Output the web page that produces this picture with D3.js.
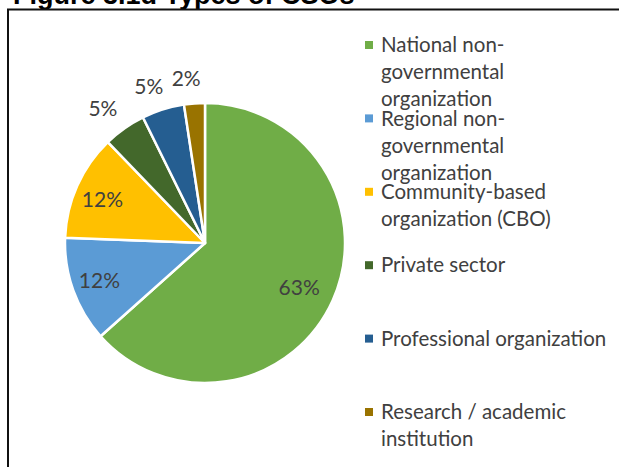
<!DOCTYPE html>
<html>
  <head>
    <meta charset='UTF-8'/>
    <script src="https://cdn.jsdelivr.net/npm/d3@7"></script>
    <style>
      body { margin : 0; background : white; }
      .title { font : bold 27px "Liberation Sans", Arial, sans-serif; fill : #000; }
      .legend text { font-family : Lato, "Open Sans", sans-serif; font-size : 20.5px; fill : #404040; }
      .label { font-family : Lato, "Open Sans", sans-serif; font-size : 21px; fill : #404040; }
    </style>
  </head>
  <body>
    <svg id='fig' width='619' height='467'></svg>
    <script>
      // data (shares in %)
      const categories = ["National non-governmental organization",
                          "Regional non-governmental organization",
                          "Community-based organization (CBO)",
                          "Private sector",
                          "Professional organization",
                          "Research / academic institution"]
      const legendLines = [["National non-", "governmental", "organization"],
                           ["Regional non-", "governmental", "organization"],
                           ["Community-based", "organization (CBO)"],
                           ["Private sector"],
                           ["Professional organization"],
                           ["Research / academic", "institution"]]
      const shares = [63.4, 12.2, 12.2, 4.9, 4.9, 2.4]
      const colors = ["#70AD47", "#5B9BD5", "#FFC000", "#43682B", "#255E91", "#997300"]
      const title = "Figure 3.1d Types of CSOs"

      const svg = d3.select("#fig")
      const cx = 205, cy = 243, r = 140

      // title is cut by the top edge, as in the source
      svg.append("text")
        .attr("class", "title")
        .attr("x", 13)
        .attr("y", 4)
        .text(title)

      // frame
      svg.append("rect")
        .attr("x", 8)
        .attr("y", 9.5)
        .attr("width", 700)
        .attr("height", 600)
        .attr("fill", "none")
        .attr("stroke", "#111")
        .attr("stroke-width", 2)

      const total = d3.sum(shares)
      const pct = d3.format(".0%")
      const pie = d3.pie().sort(null).value(d => d)
      const arcs = pie(shares)
      const arc = d3.arc().innerRadius(0).outerRadius(r)
      const inner = d3.arc().innerRadius(r*0.77).outerRadius(r*0.77)
      const outer = d3.arc().innerRadius(r*1.19).outerRadius(r*1.19)

      const g = svg.append("g").attr("transform", `translate(${cx},${cy})`)

      g.selectAll("path")
        .data(arcs)
        .join("path")
        .attr("d", arc)
        .attr("fill", (d, i) => colors[i])
        .attr("stroke", "white")
        .attr("stroke-width", 2.5)
        .attr("stroke-linejoin", "round")

      // big slices get the label inside, small ones outside (a bit to the left, like Excel)
      g.selectAll("text")
        .data(arcs)
        .join("text")
        .attr("class", "label")
        .attr("transform", d => `translate(${(d.value >= 10 ? inner : outer).centroid(d)})`)
        .attr("text-anchor", "middle")
        .attr("dx", d => d.value >= 10 ? "-0.2em" : "-0.3em")
        .attr("dy", d => d.value >= 10 ? "0.4em" : "0.45em")
        .text(d => pct(d.value/total))

      ////////////////////////////////////////////////////////////
      // legend

      const ly = d3.scaleLinear().domain([0, categories.length - 1]).range([45, 412])
      const lineH = 27

      const item = svg.append("g")
        .attr("class", "legend")
        .selectAll("g")
        .data(categories)
        .join("g")
        .attr("transform", (d, i) => `translate(365,${ly(i)})`)

      item.append("rect")
        .attr("x", 0)
        .attr("y", -4)
        .attr("width", 8)
        .attr("height", 8)
        .attr("fill", (d, i) => colors[i])

      item.append("text")
        .attr("x", 16)
        .selectAll("tspan")
        .data((d, i) => legendLines[i])
        .join("tspan")
        .attr("x", 16)
        .attr("y", (d, j) => j*lineH)
        .attr("dy", "0.35em")
        .text(d => d)
    </script>
  </body>
</html>
